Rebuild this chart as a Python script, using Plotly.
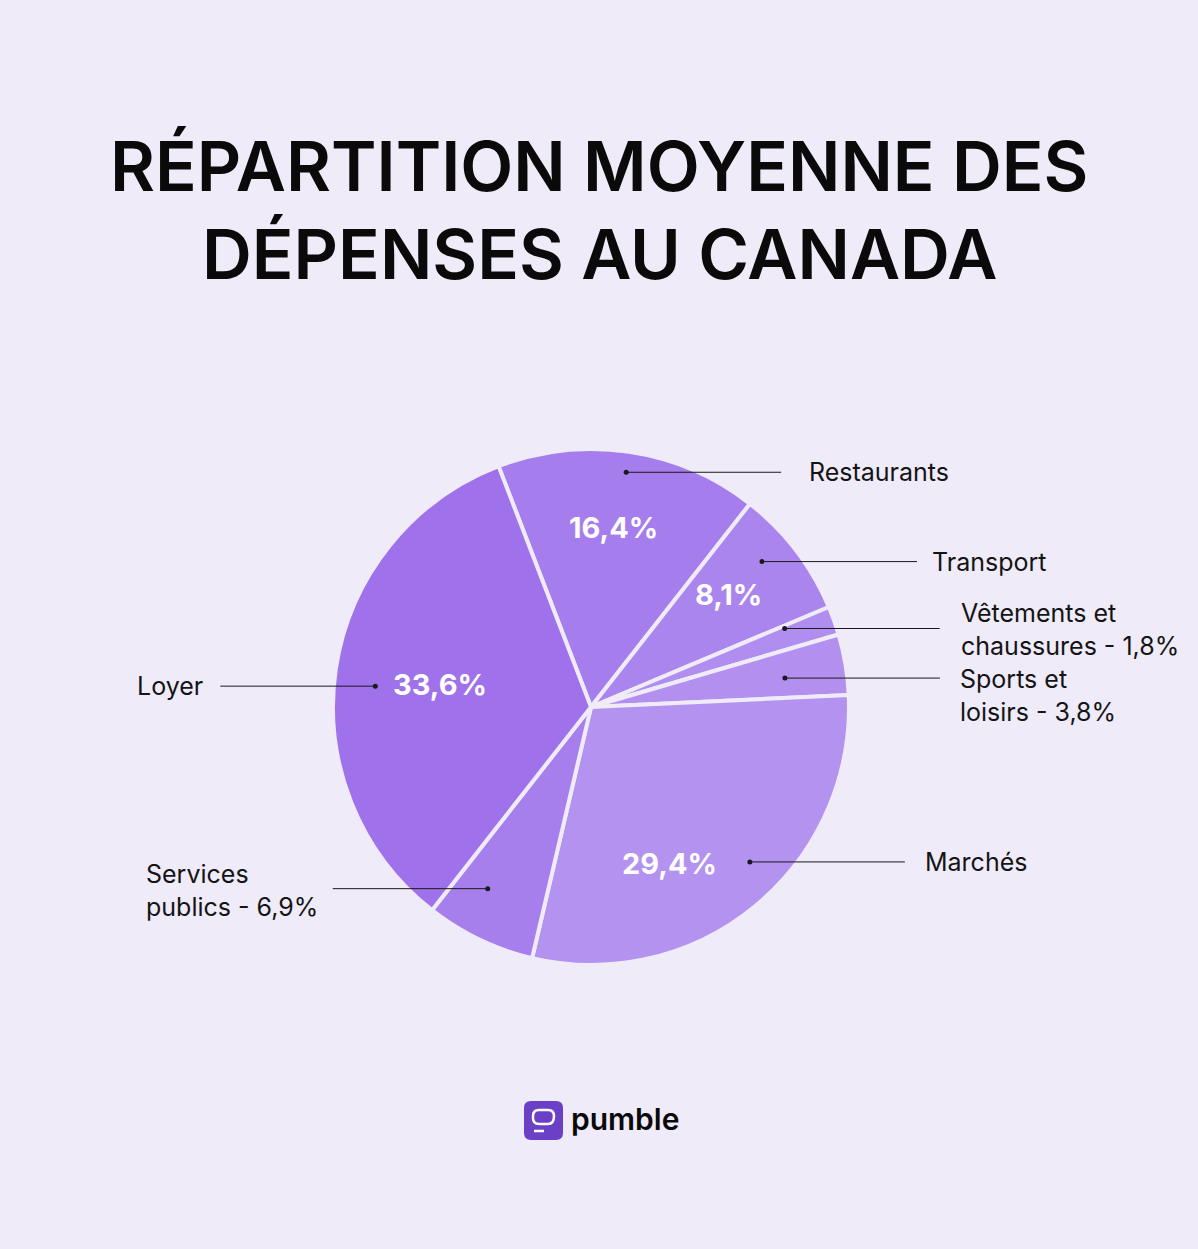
import math
import plotly.graph_objects as go

# ---------------- data ----------------
categories = ["Restaurants", "Transport", "Vêtements et chaussures", "Sports et loisirs",
              "Marchés", "Services publics", "Loyer"]
values = [16.4, 8.1, 1.8, 3.8, 29.4, 6.9, 33.6]
outer_labels = ["Restaurants", "Transport", "Vêtements et<br>chaussures - 1,8%",
                "Sports et<br>loisirs - 3,8%", "Marchés", "Services<br>publics - 6,9%", "Loyer"]
inner_labels = ["16,4%", "8,1%", "", "", "29,4%", "", "33,6%"]
title_lines = ["RÉPARTITION MOYENNE DES", "DÉPENSES AU CANADA"]

# ---------------- style ----------------
W, H = 1198, 1249
BG = "#efebf9"
colors = ["#a67dec", "#ab85ee", "#b08ef0", "#b390f0", "#b392f0", "#a77fed", "#9f72eb"]
ROT = -21
CX, CY, R = 591, 707, 258
# per-label placement tweaks (angle offset deg, radius fraction)
dot_style = [(0, 0.92), (-3, 0.87), (-2.5, 0.81), (1, 0.76), (-6, 0.86), (4, 0.81), (-3, 0.84)]
inner_style = [(-1.4, 0.70), (-2, 0.69), (0, 0), (0, 0), (13, 0.68), (0, 0), (0, 0.59)]
side = ["r", "r", "r", "r", "r", "l", "l"]
text_dy = [0, 0, 1, 17, 0, 2, 0]
LINE_LEN = 155
GAP = [26, 13, 19, 18, 18, 13, 15]
TITLE_Y = [166, 254]


def px(x):
    return x / W


def py(y):
    return 1 - y / H


fig = go.Figure()
fig.add_trace(go.Pie(
    labels=categories, values=values, sort=False, direction="clockwise",
    rotation=ROT, marker=dict(colors=colors, line=dict(color=BG, width=4)),
    textinfo="none", hoverinfo="skip", showlegend=False,
    domain=dict(x=[px(CX - R), px(CX + R)], y=[py(CY + R), py(CY - R)]),
))

total = sum(values)
start = ROT
mids = []
for v in values:
    span = v / total * 360
    mids.append(start + span / 2)
    start += span


def polar(angle, frac):
    a = math.radians(angle)
    return CX + R * frac * math.sin(a), CY - R * frac * math.cos(a)


annotations = []
shapes = []
for i, cat in enumerate(categories):
    dx, dy = polar(mids[i] + dot_style[i][0], dot_style[i][1])
    sgn = 1 if side[i] == "r" else -1
    ex = dx + sgn * LINE_LEN
    shapes.append(dict(type="line", xref="paper", yref="paper", x0=px(dx), y0=py(dy),
                       x1=px(ex), y1=py(dy), line=dict(color="#1a1a1a", width=1)))
    shapes.append(dict(type="circle", xref="paper", yref="paper",
                       x0=px(dx - 2.5), x1=px(dx + 2.5), y0=py(dy - 2.5), y1=py(dy + 2.5),
                       fillcolor="#1a1a1a", line=dict(width=0)))
    tx = ex + sgn * GAP[i]
    annotations.append(dict(x=px(tx), y=py(dy + text_dy[i]), xref="paper", yref="paper",
                            text=outer_labels[i], showarrow=False,
                            xanchor="left" if sgn > 0 else "right", yanchor="middle",
                            align="left",
                            font=dict(family="Inter", size=25, color="#141414")))
    if inner_labels[i]:
        ix, iy = polar(mids[i] + inner_style[i][0], inner_style[i][1])
        annotations.append(dict(x=px(ix), y=py(iy), xref="paper", yref="paper",
                                text=inner_labels[i], showarrow=False,
                                xanchor="center", yanchor="middle",
                                font=dict(family="Inter", size=29, color="white", weight=700)))

# title (two lines placed separately to match line spacing)
for line, ty in zip(title_lines, TITLE_Y):
    annotations.append(dict(x=0.5, y=py(ty), xref="paper", yref="paper", text=line,
                            showarrow=False, xanchor="center", yanchor="middle",
                            font=dict(family="Inter", size=69, color="#0a0a0a", weight=600)))

# logo
lx0, ly0, s, rr = 524, 1101, 39, 7
path = (f"M {px(lx0+rr)} {py(ly0)} L {px(lx0+s-rr)} {py(ly0)} "
        f"Q {px(lx0+s)} {py(ly0)} {px(lx0+s)} {py(ly0+rr)} "
        f"L {px(lx0+s)} {py(ly0+s-rr)} Q {px(lx0+s)} {py(ly0+s)} {px(lx0+s-rr)} {py(ly0+s)} "
        f"L {px(lx0+rr)} {py(ly0+s)} Q {px(lx0)} {py(ly0+s)} {px(lx0)} {py(ly0+s-rr)} "
        f"L {px(lx0)} {py(ly0+rr)} Q {px(lx0)} {py(ly0)} {px(lx0+rr)} {py(ly0)} Z")
shapes.append(dict(type="path", xref="paper", yref="paper", path=path,
                   fillcolor="#6b40c6", line=dict(width=0)))
bx0, by0, bx1, by1, br = lx0 + 9, ly0 + 9, lx0 + 30, ly0 + 23, 6
bpath = (f"M {px(bx0+br)} {py(by0)} L {px(bx1-br)} {py(by0)} "
         f"Q {px(bx1)} {py(by0)} {px(bx1)} {py(by0+br)} "
         f"Q {px(bx1)} {py(by1)} {px(bx1-br)} {py(by1)} "
         f"L {px(bx0+br)} {py(by1)} Q {px(bx0)} {py(by1)} {px(bx0)} {py(by1-br)} "
         f"L {px(bx0)} {py(by0+br)} Q {px(bx0)} {py(by0)} {px(bx0+br)} {py(by0)} Z")
shapes.append(dict(type="path", xref="paper", yref="paper", path=bpath,
                   fillcolor="rgba(0,0,0,0)", line=dict(color="white", width=2.5)))
shapes.append(dict(type="line", xref="paper", yref="paper",
                   x0=px(lx0 + 10), x1=px(lx0 + 20), y0=py(ly0 + 30), y1=py(ly0 + 30),
                   line=dict(color="white", width=2.5)))
annotations.append(dict(x=px(569), y=py(1119), xref="paper", yref="paper", text="pumble",
                        showarrow=False, xanchor="left", yanchor="middle",
                        font=dict(family="Inter", size=30, color="#0a0a0a", weight=600)))

fig.update_layout(width=W, height=H, margin=dict(l=0, r=0, t=0, b=0),
                  paper_bgcolor=BG, plot_bgcolor=BG,
                  annotations=annotations, shapes=shapes)
fig.write_html("out.html", config={"displayModeBar": False},
               post_script="document.body.style.margin='0';document.body.style.background='%s';" % BG)
